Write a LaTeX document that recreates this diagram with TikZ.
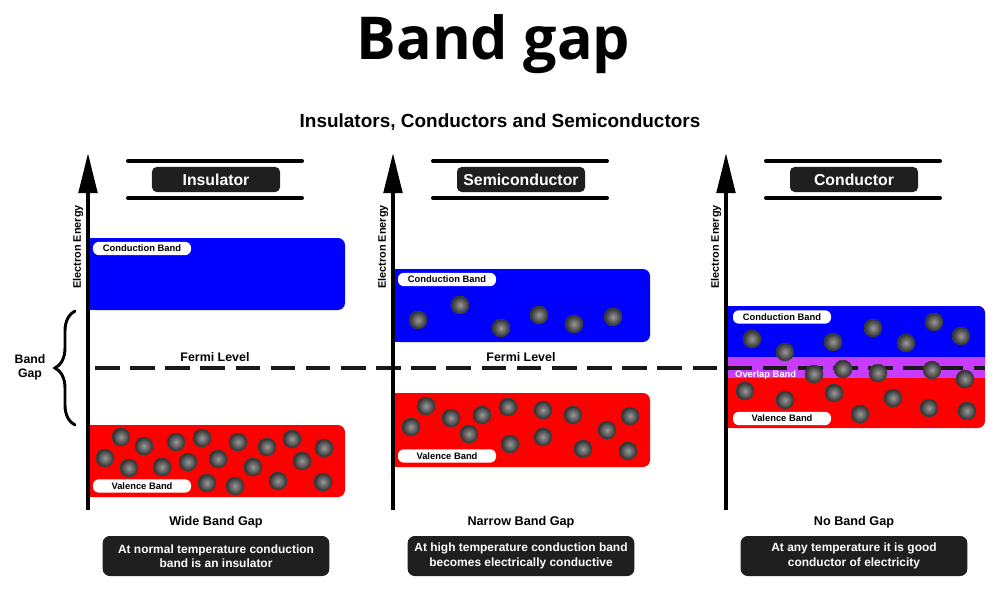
\documentclass[tikz,border=0pt]{standalone}
\usepackage{fontspec}
\setmainfont{Liberation Sans}
\newfontfamily\titlefont{Open Sans}
\usetikzlibrary{arrows.meta,decorations.pathreplacing}

\begin{document}
\begin{tikzpicture}[x=0.03cm,y=-0.03cm,line cap=round,
  font=\bfseries,
  electron/.style={shading=radial, inner color=black!40, outer color=black!82, draw=black!75, line width=0.5pt},
  pill/.style={fill=white, rounded corners=5pt, text=black, font=\bfseries\fontsize{8}{9}\selectfont,
    minimum width=2.94cm, minimum height=0.4cm, inner sep=0pt},
  darkbox/.style={fill=black!88, text=white, rounded corners=4pt, inner sep=0pt}]
\definecolor{bandblue}{RGB}{0,0,255}
\definecolor{bandred}{RGB}{255,0,0}
\definecolor{bandviolet}{RGB}{200,60,255}
\useasboundingbox (0,0) rectangle (1000,591);

% titles
\node[anchor=base] (title) at (493.5,60) {\titlefont\bfseries\fontsize{50.5}{54}\selectfont Band gap};
\node (subtitle) at (500,122) {\fontsize{16.2}{18}\selectfont Insulators, Conductors and Semiconductors};

% bands: insulator and semiconductor
\foreach \ax/\ctop/\cbot/\vtop/\vbot [count=\i] in {88/238/310/425/497, 393/269/342/393/467}{
  \fill[bandblue, rounded corners=6pt] (\ax,\ctop) rectangle (\ax+257,\cbot);
  \fill[bandblue] (\ax,\ctop) rectangle (\ax+20,\cbot);
  \fill[bandred, rounded corners=6pt] (\ax,\vtop) rectangle (\ax+257,\vbot);
  \fill[bandred] (\ax,\vtop) rectangle (\ax+20,\vbot);
  \node[pill] (cb\i) at (\ax+54,\ctop+10.5) {Conduction Band};
  \node[pill] (vb\i) at (\ax+54,\vbot-11) {Valence Band};
}

% bands: conductor
\fill[bandred, rounded corners=6pt] (726,306) rectangle (985,428);
\fill[bandred] (726,306) rectangle (760,428);
\fill[bandblue, rounded corners=6pt] (726,306) rectangle (985,370);
\fill[bandblue] (726,306) rectangle (760,370);
\fill[bandviolet] (726,357) rectangle (985,378);
\node[pill] (cb3) at (782,317) {Conduction Band};
\node[pill] (vb3) at (782,418.5) {Valence Band};
\node[anchor=west, text=white, inner sep=0pt, font=\bfseries\fontsize{8}{9}\selectfont] (ob3) at (735,375) {Overlap Band};

% fermi level
\draw[line width=3.4pt, line cap=butt, dash pattern=on 21pt off 9pt, black!90] (95,368) -- (985,368);
\node[font=\bfseries\fontsize{10.6}{12}\selectfont] (fermi1) at (215,357) {Fermi Level};
\node[font=\bfseries\fontsize{10.6}{12}\selectfont] (fermi2) at (521,357) {Fermi Level};

% electrons
\foreach \x/\y in {121/437, 144/446, 176/442, 202/438, 238/442, 267/447, 292/439, 324/448,
  105/458, 129/468, 162/467, 188/462, 218/459, 253/467, 302/461, 207/483, 235/486, 278/481, 323/482,
  418/320, 460/305, 501/328, 539/315, 574/324, 613/317,
  426/406, 411/427, 451/418, 469/434, 482/415, 508/407, 510/444, 543/410, 543/437, 573/415,
  583/449, 607/430, 630/416, 628/451,
  752/339, 785/352, 833/342, 873/328, 906/343, 934/322, 961/336,
  814/374, 843/369, 878/373, 932/370, 965/379,
  745/391, 785/400, 834/393, 893/398, 860/414, 929/408, 967/411}
  \draw[electron] (\x,\y) circle (9);

% axes, headings and notes
\foreach \ax/\name/\gap/\linea/\lineb [count=\i] in {
  88/Insulator/Wide Band Gap/At normal temperature conduction/band is an insulator,
  393/Semiconductor/Narrow Band Gap/At high temperature conduction band/becomes electrically conductive,
  726/Conductor/No Band Gap/At any temperature it is good/conductor of electricity}{
  \draw[line width=3.4pt, line cap=butt, -{Triangle[length=1.2cm, width=0.55cm]}] (\ax,510) -- (\ax,153);
  \node[rotate=90, font=\bfseries\fontsize{9.3}{10}\selectfont] (axis\i) at (\ax-10,247) {Electron Energy};
  \draw[line width=3.4pt] (\ax+40,161) -- (\ax+214,161);
  \draw[line width=3.4pt] (\ax+40,198) -- (\ax+214,198);
  \node[darkbox, minimum width=3.84cm, minimum height=0.75cm, font=\bfseries\fontsize{13.5}{15}\selectfont] (head\i) at (\ax+128,179.5) {\name};
  \node[font=\bfseries\fontsize{10.8}{12}\selectfont] (gap\i) at (\ax+128,522) {\gap};
  \node[darkbox, rounded corners=6pt, minimum width=6.8cm, minimum height=1.2cm, align=center,
    font=\bfseries\fontsize{10.2}{12.2}\selectfont] (note\i) at (\ax+128,556) {\linea\\\lineb};
}

% band gap brace
\draw[line width=2.5pt, decorate, decoration={brace, amplitude=0.6cm}] (75,425) -- (75,311);
\node[align=center, font=\bfseries\fontsize{10.5}{12}\selectfont] (bandgap) at (30,367) {Band\\Gap};
\end{tikzpicture}
\end{document}
